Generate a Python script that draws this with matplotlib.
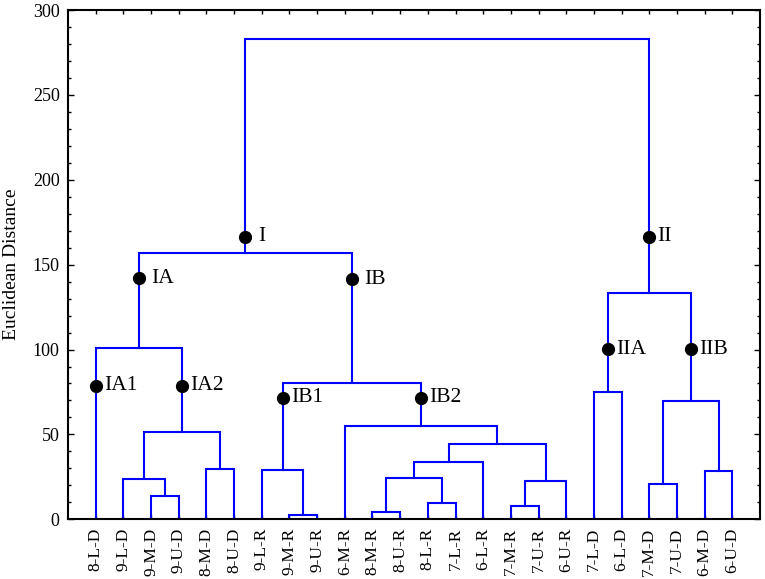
import numpy as np
import matplotlib
matplotlib.use("Agg")
import matplotlib.pyplot as plt
from matplotlib.ticker import MultipleLocator

plt.rcParams['font.family'] = ['Liberation Serif', 'DejaVu Serif']

# leaf order as drawn
leaves = ['8-L-D', '9-L-D', '9-M-D', '9-U-D', '8-M-D', '8-U-D',
          '9-L-R', '9-M-R', '9-U-R', '6-M-R', '8-M-R', '8-U-R',
          '8-L-R', '7-L-R', '6-L-R', '7-M-R', '7-U-R', '6-U-R',
          '7-L-D', '6-L-D', '7-M-D', '7-U-D', '6-M-D', '6-U-D']

# merges: (left child, right child, linkage distance); new node ids start at len(leaves)
merge_left = [2, 1, 4, 25, 0, 7, 6, 10, 12, 31, 33, 15, 35, 34, 9, 30, 28,
              18, 20, 22, 42, 41, 40]
merge_right = [3, 24, 5, 26, 27, 8, 29, 11, 13, 32, 14, 16, 17, 36, 37, 38, 39,
               19, 21, 23, 43, 44, 45]
merge_dist = [13.9, 23.6, 29.8, 51.6, 100.9, 2.5, 28.8, 4.3, 9.8, 24.3, 33.9,
              7.8, 22.7, 44.5, 55.2, 80.5, 156.7, 75.2, 21.0, 28.3, 69.9,
              133.1, 282.7]

# cluster markers: node id, height of dot, label
mark_node = [40, 28, 39, 0, 27, 30, 38, 45, 41, 44]
mark_height = [166.5, 142.0, 141.5, 78.7, 78.7, 71.6, 71.6, 166.5, 100.1, 100.1]
mark_label = ['I', 'IA', 'IB', 'IA1', 'IA2', 'IB1', 'IB2', 'II', 'IIA', 'IIB']

n = len(leaves)
xpos = {i: float(i) for i in range(n)}
ypos = {i: 0.0 for i in range(n)}

fig = plt.figure(figsize=(7.65, 5.79), dpi=100)
ax = fig.add_axes([0.0889, 0.1031, 0.9046, 0.8796])

line_color = '#0000ff'
for k, (a, b, d) in enumerate(zip(merge_left, merge_right, merge_dist)):
    node = n + k
    xa, xb = xpos[a], xpos[b]
    ax.plot([xa, xa, xb, xb], [ypos[a], d, d, ypos[b]],
            color=line_color, lw=1.5, solid_joinstyle='miter', zorder=2)
    xpos[node] = (xa + xb) / 2
    ypos[node] = d

for node, h, lab in zip(mark_node, mark_height, mark_label):
    ax.plot(xpos[node], h, 'o', color='black', ms=8.5, zorder=3)
    off = 9 if lab in ('I', 'IA', 'IB') else 6
    ax.annotate(lab, (xpos[node], h), xytext=(off, 0), textcoords='offset points',
                ha='left', va='center', fontsize=15.5)

ax.set_xlim(-1, n)
ax.set_ylim(0, 300)
ax.set_xticks(range(n))
ax.set_xticklabels(leaves, rotation=90, fontsize=12.5)
ax.yaxis.set_major_locator(MultipleLocator(50))
ax.yaxis.set_minor_locator(MultipleLocator(10))
ax.tick_params(axis='y', which='major', direction='in', length=4.5, width=1,
               labelsize=13, pad=6, right=True)
ax.tick_params(axis='y', which='minor', direction='in', length=2.5, width=1,
               right=True)
ax.tick_params(axis='x', direction='in', length=3, width=1, top=True, pad=6)
for s in ax.spines.values():
    s.set_linewidth(1.5)

ax.set_ylabel('Euclidean Distance', fontsize=14)
ax.yaxis.set_label_coords(-0.070, 0.5)

fig.savefig('out.png', dpi=100)
